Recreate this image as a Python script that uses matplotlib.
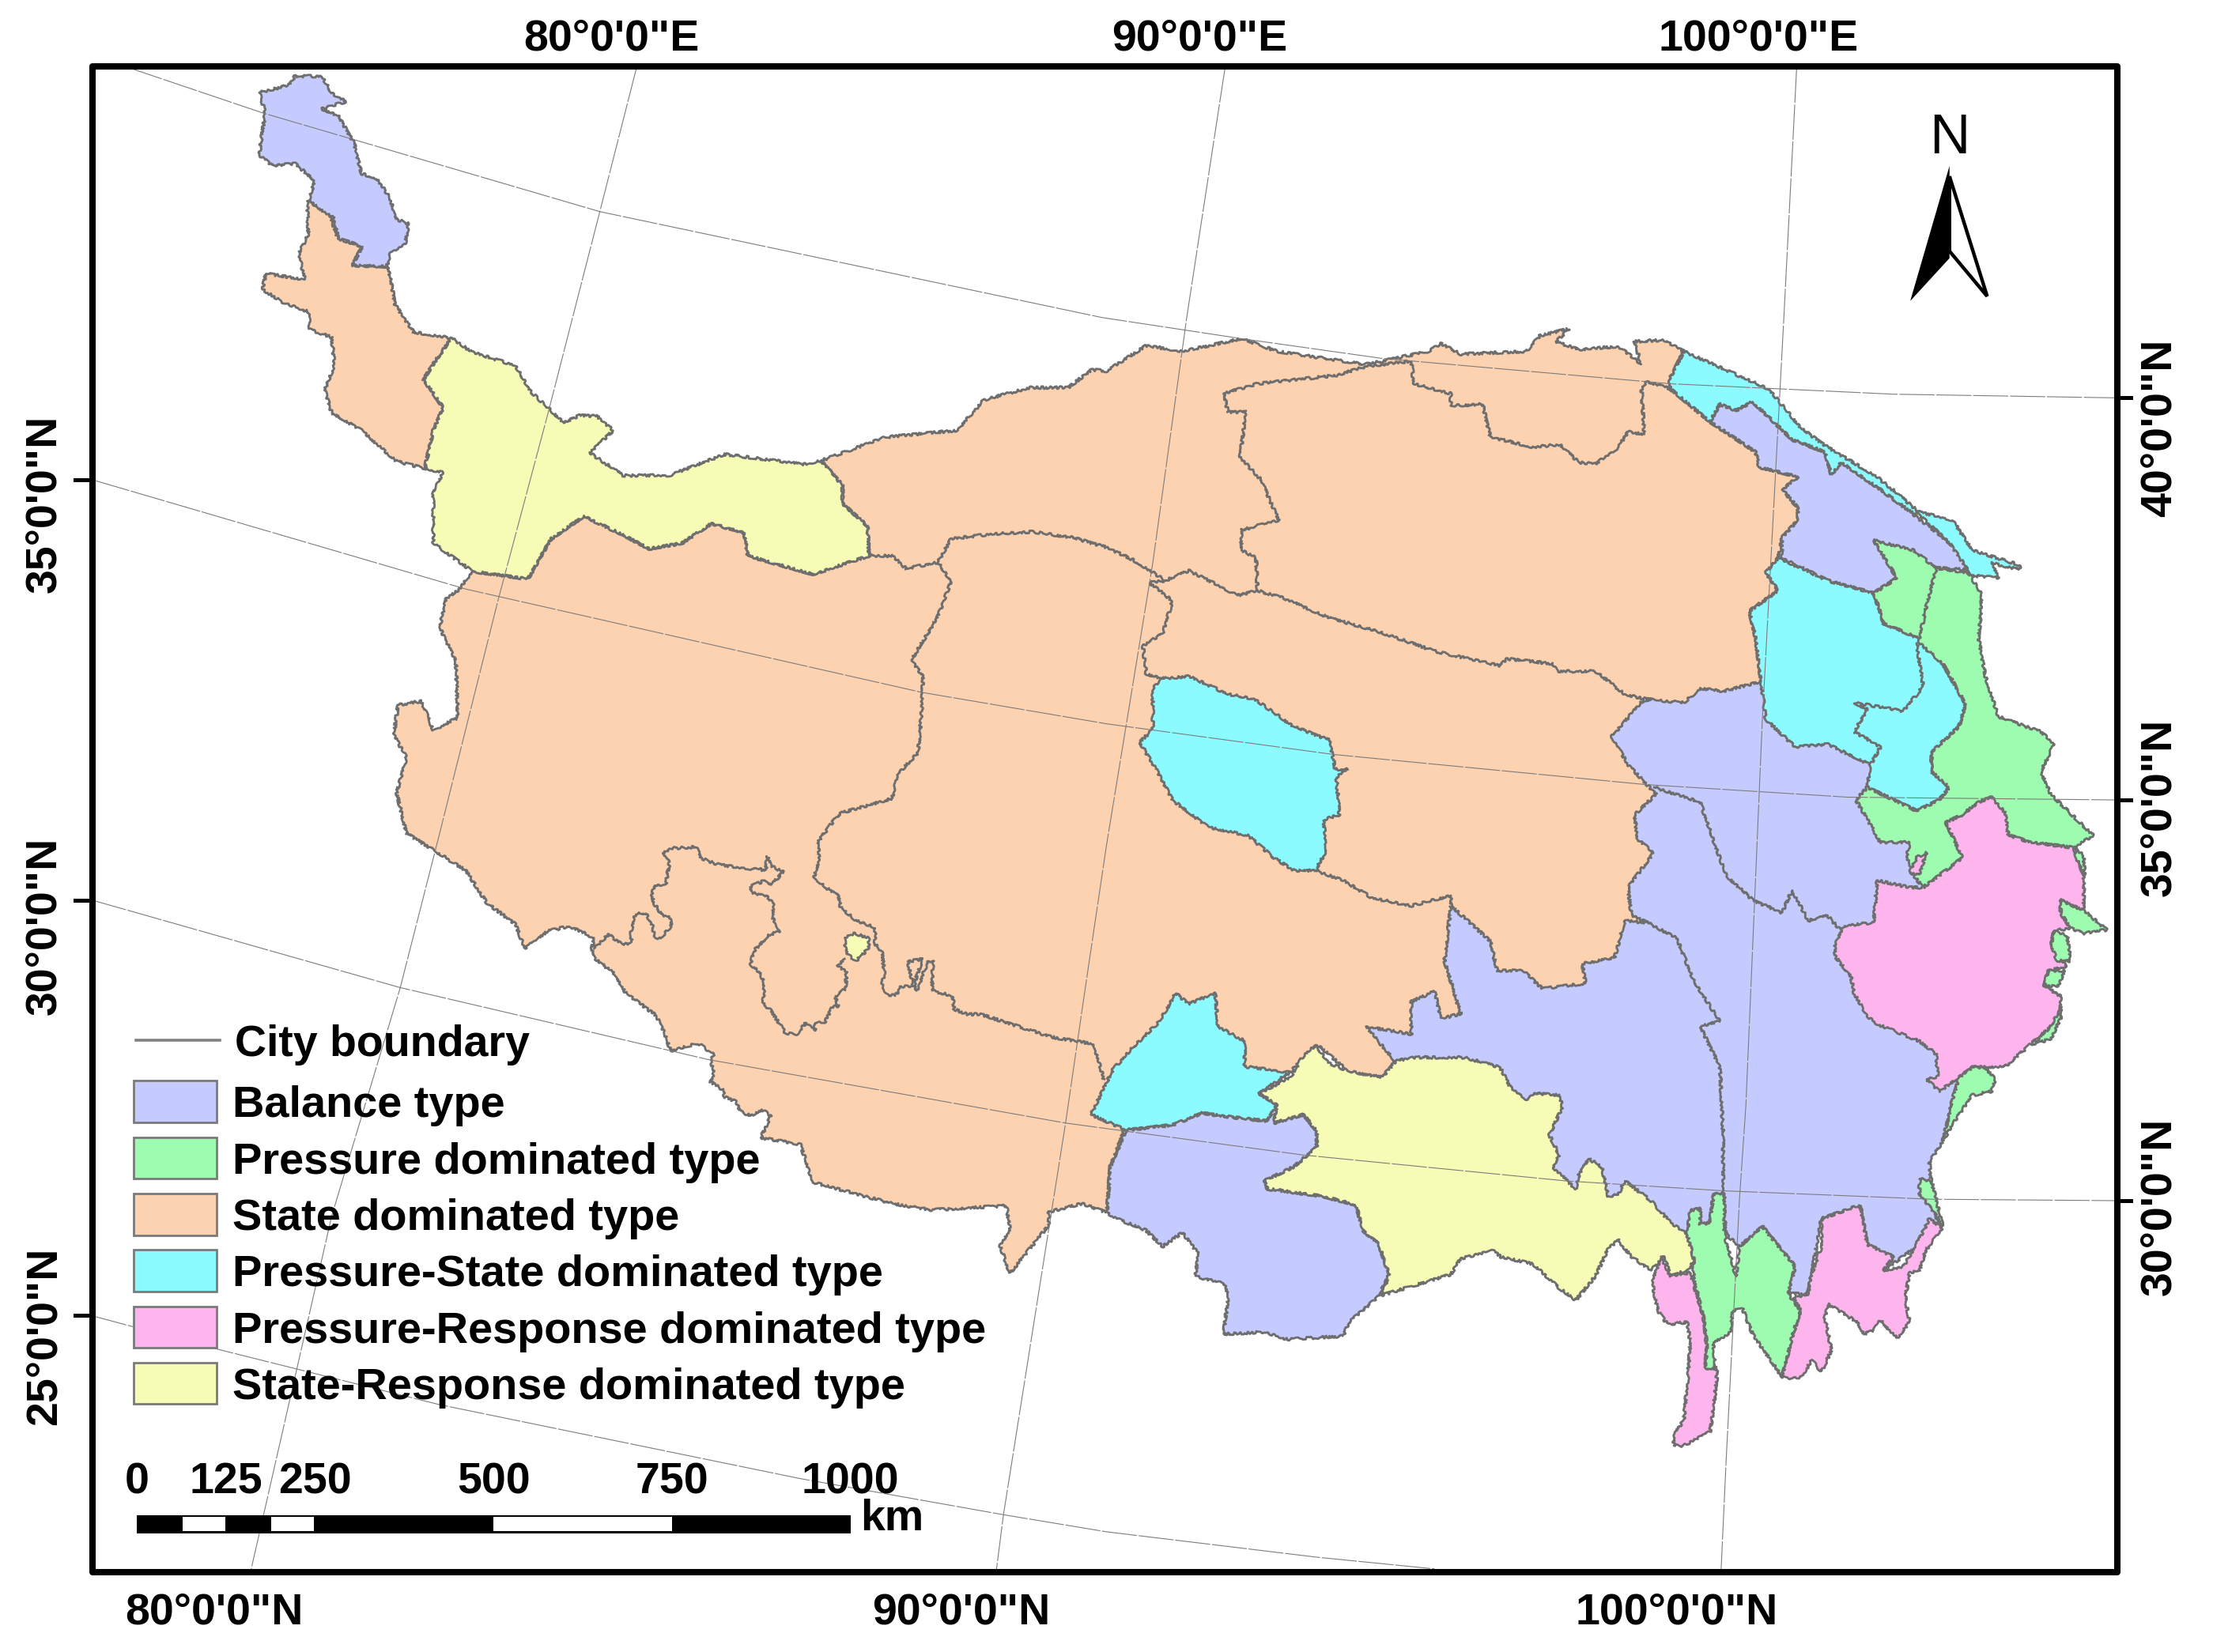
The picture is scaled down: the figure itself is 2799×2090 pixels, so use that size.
import matplotlib
matplotlib.use("Agg")
import matplotlib.pyplot as plt
from matplotlib.patches import Polygon, Rectangle

plt.rcParams['font.family'] = ['Liberation Sans', 'DejaVu Sans']

# everything, in a 1568 x 1171 map sheet grid
W, H = 1568, 1170.9

c_balance = '#C5CBFE'
c_pressure = '#9EFCB0'
c_state = '#FDD2B0'
c_ps = '#8CFBFF'
c_pr = '#FEB5EE'
c_sr = '#F6FCB6'
c_edge = '#6E6E6E'

legend_labels = ['Balance type', 'Pressure dominated type', 'State dominated type',
                 'Pressure-State dominated type', 'Pressure-Response dominated type',
                 'State-Response dominated type']
legend_colors = [c_balance, c_pressure, c_state, c_ps, c_pr, c_sr]
scale_km = [0, 125, 250, 500, 750, 1000]

# shared edge of the northern yellow region and the main orange region
yellow_south_edge = [(334.7,405),(374,410.4),(390.4,382),(413.6,366),(439,378),(460,389),(483.3,385),
                     (504,371),(527.4,378),(529.8,394),(576,407),(615.7,394),(614.7,373),(597,357),
                     (597,344),(581.8,326.5)]

state_main = yellow_south_edge + [
    (627,310),(678,305),(697,283.6),(729.5,274.7),(757,274.7),(773.6,262),(784,263),(812,245),(838,249),
    (879.5,240),(905,249),(965.5,258),(979,256),(1012,249),(1021,243.6),(1035,251),(1081.6,249),(1091,238),
    (1112,233),(1102.5,242),(1119,248),(1146.6,245.4),(1163,258),(1158,242),(1179,241),(1193,249),(1183,268.6),
    (1183.7,275.8),(1211.6,299),(1244,320.4),(1246.4,331),(1274,338),(1262.7,347),(1274,360),(1274,368.6),
    (1262.7,381),(1260,395.4),(1251,406),(1260,418.6),(1239.5,433),(1244,452.6),(1247.8,483),(1221,490),
    (1204.6,488),(1193,498),(1165,495.4),(1142,522),(1153.5,542),(1173.5,563),(1158,577.6),(1160.5,595.4),
    (1172,604),(1153.5,629),(1156,649),(1167.5,654),(1151,652.6),(1144,679),(1121,683),(1123.4,697),(1093,700.8),
    (1079,688),(1060.7,688),(1056,667),(1028,642),(1023.5,681),(1035,718.6),(1021,722),(1016.5,702.6),(1000,710),
    (1000,733),(967.8,727.6),(988.7,752.3),(979.4,763.6),(956,760),(933,740),(914,760),(850,770),(797,800),
    (786.6,827),(784.3,859.5),(766.6,853),(743,859),(743.4,868),(715.5,902.6),(708.6,883),(715.5,871),(713,854.6),
    (660,857.6),(632,853),(576,838),(567,811),(539,806.5),(546.3,790.8),(540.7,787),(532.3,790.8),(524.8,788),
    (521,780.5),(513.6,777.7),(511.7,772.2),(503.3,766.5),(506.1,760),(503.3,751.6),(506.1,747.9),(494.9,739.5),
    (487.4,741.3),(475.3,745),(470.6,732),(465,719.9),(443.5,704),(435,690),(422,679.7),(419.3,672.2),(421,664.8),
    (403.4,656.4),(388,660),(372,672),(365,655),(345,640),(330,617),(300,598),(288,590.7),(281,562),(288,537),
    (279,521),(282,499.7),(298.5,497),(307,517.5),(324.5,508.6),(323,469),(311.5,444.7),(316,424.7),(325.4,417.5)]

state_nw = [(217.6,142.5),(232.5,149.7),(239.5,169),(256.6,174.7),(249.7,188),(275,189),(280,216),(293,235.4),
            (320,239.7),(309,255),(300,269),(314,289),(307,305),(301,332),(281,327),(256,305),(235,292.5),
            (230,276.5),(237,258.6),(235,239),(219.5,233.6),(218.6,221),(200,214),(186,205),(188.4,194),
            (216,198),(211.6,180),(218.6,166)]

response_north = [(320,239.7),(334.7,249.7),(365,259),(376.5,278),(399.7,299.7),(411,294.3),(423,295),(434.5,305),
                  (418,321),(441.5,337),(474,337),(513.5,322),(569,329)] + yellow_south_edge[::-1] \
    + [(307,385),(307,348),(313.8,335),(301,332),(307,305),(314,289),(300,269),(309,255)]

balance_nw = [(183.7,65.7),(204.6,60.4),(209,54),(228,54),(235,66),(245.5,72),(228,77),(239.5,82),(251,101.5),
              (256,123),(267,126.5),(276.6,140.7),(280,155),(289.6,158.6),(287,173),(276.6,180),(274,189),
              (249.7,188),(256.6,174.7),(239.5,169),(237,155),(218.6,142.5),(223,128),(209,116),(193,117.5),
              (183.7,110),(186,92.5),(188,80)]

balance_ne = [(1211.6,299),(1218.6,286.5),(1230,291),(1241.8,284.7),(1269.7,311.5),(1293,320.4),(1297.6,336.5),
              (1304.5,327.6),(1330,345.4),(1352,361.5),(1381,384.7),(1404.3,404.4),(1372,402.6),(1327.7,383),
              (1344,409.7),(1327.7,420.4),(1295,411.5),(1262.7,395.4),(1262.7,381),(1274,368.6),(1274,360),
              (1262.7,347),(1274,338),(1246.4,331),(1244,320.4)]

balance_main = [(1000,700),(1020,625),(1100,620),(1100,520),(1240,470),(1300,470),(1340,540),(1400,600),(1450,700),(1400,750),
                (1385.8,773.5),(1376.5,808.7),(1367,824),(1369.6,849.7),(1374,872),(1334.6,900.5),(1341.6,890.6),
                (1323,882),(1318,854),(1290.6,863.8),(1281,917),(1267,917),(1272,897.7),(1248.8,869.4),
                (1232.5,883.5),(1223,875),(1220.9,845.4),(1214,846.8),(1211.6,866.6),(1204.6,868),(1204.6,856.7),
                (1197.7,858),(1195.4,875),(1190,880),(1100,850),(1000,800),(950,760),(967.8,727.6)]

balance_south = [(798,801),(830.7,797.5),(851.6,789),(872.5,791.8),(898,794.6),(905,783),(902.7,796),(923.6,790),
                 (933,801.7),(933,813),(916.7,827),(895.8,837),(898,842.6),(937.6,848),(960.8,854),(965.4,872),
                 (977,882),(984,903),(977,918.8),(956,937),(951.5,947),(912,949.3),(895.8,944),(867,945.6),
                 (870,920),(867.9,910),(847,904.7),(849.3,889),(837.7,873.7),(823.8,883.5),(812,872),(791.3,863.8),
                 (784.3,859.5),(786.6,827)]

response_south = [(892,775),(914.4,763.6),(923.6,748),(932,741),(942.2,753.7),(956,759.3),(979.4,763.6),(988.7,752.3),
                  (1000,749.5),(1014.2,749.5),(1037.4,749.5),(1063,756.5),(1070,770.6),(1081.6,779),(1088.5,774.9),
                  (1104.8,776.3),(1107,784.7),(1097.8,804.5),(1104.8,818.6),(1100,827),(1116.4,842.6),(1118.7,832.7),
                  (1125.7,821.4),(1135,827),(1139.6,848),(1146.6,846.8),(1151.2,837),(1169.8,851),(1183.7,866.6),
                  (1195.4,875),(1200,892),(1197.7,899),(1183.7,904.7),(1179,890.6),(1169.8,900.5),(1155.9,890.6),
                  (1146.6,879),(1139.6,885),(1130.3,904.7),(1116.4,921.6),(1104.8,913),(1086.2,896),(1063,890.6),
                  (1058.3,886.4),(1035,892),(1028,903.3),(979.4,918),(984,903),(977,882),(965.4,872),(960.8,854),
                  (937.6,848),(898,842.6),(895.8,837),(916.7,827),(933,813),(933,801.7),(923.6,790),(902.7,796),(905,783)]

ps_ne = [(1193,249),(1253.4,275.8),(1276.6,304),(1295,317),(1330,338),(1360,363),(1383.5,368.6),(1397.4,390),
         (1432,400.8),(1430,403.6),(1411,399),(1416,409.7),(1397.4,408),(1381,384.7),(1360,365),(1352,361.5),
         (1330,345.4),(1304.5,327.6),(1297.6,336.5),(1293,320.4),(1269.7,311.5),(1241.8,284.7),(1230,291),
         (1218.6,286.5),(1211.6,299),(1183.7,275.8),(1183,268.6)]

ps_east = [(1260,395.4),(1295,411.5),(1327.7,420.4),(1334.7,442),(1360,452.6),(1376.5,470.4),(1392.7,499),(1388,515),
           (1368.6,533),(1368.6,547),(1381,558),(1374,567),(1358,574.7),(1323,558),(1325,542),(1295,527.6),
           (1272,529.4),(1251,509.7),(1247.8,483),(1244,452.6),(1239.5,433),(1260,418.6),(1251,406)]

ps_lake = [(823.8,481),(842.4,479.4),(870.2,492),(888.8,495.4),(916.7,515),(942.2,524.7),(946,545.4),(955,544.7),
           (946.9,550.8),(949,577.6),(937.6,581),(940,602.6),(932,617),(916.7,617),(902.7,608),(884,592),
           (856.3,586.5),(830.7,567),(819,545),(807.5,526),(816.8,517),(816.8,488)]

ps_south = [(773,790),(788.6,758),(803,742),(821.5,724),(833,704),(842,711.5),(861,704),(863,727.6),(882,738),
            (882,756),(914,760),(892,775),(905,783),(898,794.6),(872.5,791.8),(851.6,789),(830.7,797.5),(798,801)]

pressure_east = [(1327.7,383),(1355.6,390),(1372,402.6),(1395,406),(1404.3,422),(1402,452.6),(1406.7,479.4),
                 (1413.6,500.8),(1416,508),(1446,518.6),(1455.5,527.6),(1446,547),(1453,563),(1483,592),(1469.4,600.8),
                 (1439,597),(1423,592),(1411,565),(1402,568.6),(1390,577.6),(1378.8,583),(1390.4,608),(1376.5,618.6),
                 (1362.6,629),(1355.6,620.4),(1351,608),(1353,597),(1332.4,597),(1315,567),(1323,558),(1358,574.7),
                 (1374,567),(1381,558),(1368.6,547),(1368.6,533),(1388,515),(1392.7,499),(1376.5,470.4),(1360,456),
                 (1360,452.6),(1334.7,442),(1327.7,420.4),(1344,409.7)]

pressure_south = [(1214,846.8),(1221.8,845.4),(1221.8,875),(1230,904.7),(1232.5,883.5),(1248.8,869.4),(1272,897.7),
                  (1267,917),(1275.7,928.7),(1269.7,948),(1262.7,976),(1241.8,945.6),(1234.8,928),(1228,928.7),
                  (1225.5,945.6),(1214,951),(1215.4,970),(1208.4,969.6),(1209.3,952.7),(1207,934),(1200,906),
                  (1200,892),(1195.4,875),(1197.7,858),(1204.6,856.7),(1204.6,868),(1211.6,866.6)]

pressure_bits = [
    [(1469.4,600.8),(1476.4,606),(1477,621),(1472,610)],
    [(1460,638),(1476.4,645.4),(1492.6,659),(1476.4,661.5),(1467,658),(1460,647)],
    [(1455.4,659.7),(1464.7,663),(1467,681),(1457.8,681),(1453,670.4)],
    [(1451,688),(1463,688),(1458,699),(1448.5,699)],
    [(1460,714),(1460,722),(1453,736.5),(1440,740),(1453,727.6)],
    [(1397.4,756.5),(1406.7,756.5),(1413.6,765),(1411,773.5),(1397.4,776.3),(1388,790),(1376.5,808.7),(1383.5,779),(1388,763.6)],
    [(1360,835.6),(1368.6,837),(1376.5,869.4),(1369.6,858),(1360,847)]]

pr_main = [(1411,565),(1420.6,575.8),(1423,592),(1439,597),(1469.4,600.8),(1476.4,620.4),(1476.4,645.4),(1460,638),
           (1460,647),(1467,658),(1455.4,659.7),(1453,670.4),(1464.7,684.7),(1451,688),(1448.5,699),(1460,706),
           (1460,722),(1439,740),(1420.6,756),(1397.4,756.5),(1388,763.6),(1374,773.5),(1365,765),(1373,763),
           (1371.8,747),(1360,738),(1330,725.8),(1323,720),(1313.8,704),(1311.5,692),(1300,677.6),(1300,668.6),
           (1306.8,656),(1327.7,654),(1330,624),(1353,629),(1362.6,629),(1376.5,618.6),(1390.4,608),(1378.8,583),
           (1390,577.6),(1402,568.6)]

pr_small = [(1357.9,608),(1353,618.6),(1360,620.4),(1365,604)]

pr_strip = [(1176.8,890.6),(1183.7,904.7),(1197.7,901.9),(1207,934),(1209.3,952.7),(1208.4,969.6),(1216.3,970.5),
            (1216.3,978),(1214,999),(1211.6,1014.8),(1193,1024.7),(1186,1024.7),(1186,1017.6),(1193,1006.3),
            (1195.4,982.3),(1197.7,951),(1195.4,937.2),(1181.4,938.6),(1174.5,928.7),(1170.7,909)]

pr_southeast = [(1271,920),(1281,917),(1283.6,903.3),(1290.6,883.5),(1290.6,863.8),(1318,854),(1323,882),(1341.6,890.6),
                (1334.6,900.5),(1348.6,897.7),(1360,877.9),(1367,863.8),(1376.5,870.8),(1364.6,886),(1360,900.5),
                (1353,901.9),(1350,920),(1353,937.2),(1344,948.5),(1332.4,935.8),(1327.7,942.8),(1320.7,945.6),
                (1316,937),(1295.4,924.5),(1293,934.3),(1297.6,957),(1290.6,972.4),(1283.6,964),(1276.5,976),
                (1267,976.7),(1262.7,976),(1269.7,948),(1275.7,928.7)]

sr_small = [(599.5,664.8),(605,661.4),(615.4,664.8),(615.4,672.2),(607,680.6),(600.4,676.9),(598.5,668.5)]

# city boundaries inside the regions
city_lines = [
    [(967.8,259.7),(947,266),(891,272),(867,279),(870,292),(882.8,292),(878.6,324),(893.4,340),(906,368.6),(879.5,375.8),
     (879.5,390),(890,395.4),(891,418.6),(909.7,424),(942,438),(974.7,447),(1016.5,461.5),(1063,472),(1067.6,467),
     (1100,470.4),(1104.8,475.8),(1130.3,475.8),(1151.2,492),(1165,495.4)],
    [(967.8,259.7),(1000,256),(1001.7,272),(1028,279),(1028,287.6),(1050.4,286.5),(1056,309.7),(1086,317),(1104.8,315),
     (1118.7,327.6),(1130.3,329),(1146.6,317),(1153.5,306),(1165,308),(1163,274),(1167.5,270.4),(1183.7,275.8)],
    [(664.5,398.6),(673.8,382),(701.6,378.6),(731.8,376.9),(760,381),(784.3,388),(803,397),(826,411.5),(842.4,404.4),
     (877,422),(891,418.6)],
    [(615.7,394),(632,394),(642,403),(664.5,398.6),(674,412),(664.5,437),(646,467.5),(654,480),(653,505),(650.5,533.6),
     (636.6,548),(632,566),(595,576.5),(590,582.6),(579,597.5),(580.8,606.9),(577,621.8),(585.5,629.3),(593.9,634.9),
     (595.7,643.3),(607,652.6),(620,657.3),(620,669.4),(624.7,674),(626.6,689),(624.7,700.2),(631.2,705.9),(636.8,704),
     (637.8,699.3),(647.1,699.3),(643.4,681.6),(653.6,679.7),(648,696.5),(649.5,702.1),(657.4,681.6),(661.1,680.6),
     (660.2,702.1),(675.1,705.9),(676,715.2),(685.4,718.9),(694.7,718.9),(745,735),(775,740),(782,765)],
    [(421,672.2),(431.4,662),(436,666.6),(443.5,669.4),(447.3,667.6),(447.3,659),(450,648),(457.6,647),(463,657.3),
     (463,663),(467.8,665.7),(475.3,656.4),(475.3,650.8),(468.8,648),(463,639.6),(461.7,633),(465,627.4),(471.6,627.4),
     (474.4,611.5),(469.1,605),(475.3,601.3),(494,600.3),(495.8,607.8),(508,612.5),(521,614.7),(538.8,616.2),
     (542.5,617.1),(543.5,606.9),(547.2,614.3),(555,618),(547.2,626.5),(540.7,624.6),(531.3,628.4),(534.1,633),
     (543.5,635.8),(548.1,639.6),(547.2,649.8),(552.8,660),(544.4,662.9),(534.1,674.1),(531.9,683.4),(537.9,689),
     (541.6,696.5),(540.7,711.5),(545.3,715.2),(556.5,732),(564,733.5),(570.5,725.5),(578,730),(577,725.5),(584.5,724.5),
     (590.1,713.3),(593.9,713.3),(592,706.8),(599.5,700.2),(599.5,689),(593,684.4),(598.5,679.7)],
    [(826,411.5),(814.5,413),(830.7,426),(823.8,449),(809.8,458),(812.2,477.6),(823.8,481)],
    [(932,617),(951.5,624),(972.4,636.5),(1000,642),(1028,634.7),(1028,642)],
    [(1167.5,654),(1188,665),(1200,695),(1218.6,724),(1204.6,727.6),(1218.6,756),(1220.9,804.5),(1220.9,845.4)],
    [(1172,558),(1204.6,568.6),(1214,595.4),(1223,620.4),(1241.8,638),(1262.7,647),(1269.7,631),(1281.3,652.6),(1295,649),
     (1304.5,659.7)],
    [(1358,456),(1362.6,486.5),(1348.6,504),(1313.8,498),(1323,502.6),(1313.8,518.6),(1332.4,529.4),(1325.4,542)],
    [(1372,402.6),(1365,429),(1360,452.6)]]

# graticule
par_40 = [(91,47.9),(186,80),(425,150),(780.5,225),(879.5,240),(979,254),(1183.7,272),(1341.7,279.4),(1500,282)]
par_35 = [(67.6,340.7),(330,417.5),(653,490.7),(784,513),(944.5,534.7),(1165,556),(1309,565),(1500,567)]
par_30 = [(65.3,638),(283.6,700),(501.9,751),(755,796),(923,818.6),(1109.4,837),(1220.9,844),(1369.6,850),(1500,851)]
par_25 = [(65.3,932.6),(149,955),(311.5,995.6),(567,1048),(711,1073.6),(784,1085.7),(933,1103.7),(1016.5,1112)]
mer_80 = [(451,48),(425,150),(388,294),(353,425),(311.5,590.7),(283.6,700),(235,862),(178,1112)]
mer_90 = [(868,48),(841,224),(816.8,399),(784,599),(769,700),(755,796),(711,1073.6),(706,1112.7)]
mer_100 = [(1273,48),(1264,224),(1248.7,509.7),(1237,784),(1232.5,849.7),(1223,1036),(1219.5,1112)]

top_labels = [('80°0\'0"E', 433), ('90°0\'0"E', 850), ('100°0\'0"E', 1246)]
bottom_labels = [('80°0\'0"N', 152), ('90°0\'0"N', 681), ('100°0\'0"N', 1188)]
left_labels = [('35°0\'0"N', 357, 340), ('30°0\'0"N', 656, 638), ('25°0\'0"N', 947, 932)]
right_labels = [('40°0\'0"N', 303, 282), ('35°0\'0"N', 572, 567), ('30°0\'0"N', 855, 851)]

fig = plt.figure(figsize=(27.99, 20.90), dpi=100)
ax = fig.add_axes([0, 0, 1, 1])
ax.set_xlim(0, W)
ax.set_ylim(H, 0)
ax.axis('off')


def region(pts, color, z=2):
    p = Polygon(pts, closed=True, fc=color, ec=c_edge, lw=2.0, zorder=z, joinstyle='round')
    p.set_sketch_params(scale=1.6, length=10, randomness=20)
    ax.add_patch(p)


# order matters, later regions sit on the earlier ones
region(balance_main, c_balance)
region(state_main, c_state)
region(state_nw, c_state)
region(response_north, c_sr)
region(balance_nw, c_balance)
region(balance_ne, c_balance)
region(ps_ne, c_ps)
region(ps_east, c_ps)
region(ps_lake, c_ps)
region(ps_south, c_ps)
region(balance_south, c_balance)
region(response_south, c_sr)
region(pressure_east, c_pressure)
region(pr_main, c_pr)
region(pr_small, c_pr)
for bit in pressure_bits:
    region(bit, c_pressure)
region(pr_strip, c_pr)
region(pr_southeast, c_pr)
region(pressure_south, c_pressure)
region(sr_small, c_sr)

for line in city_lines:
    l, = ax.plot([p[0] for p in line], [p[1] for p in line], color=c_edge, lw=2.0, zorder=3)
    l.set_sketch_params(scale=1.6, length=10, randomness=20)

# graticule goes over the map
for line in [par_40, par_35, par_30, par_25, mer_80, mer_90, mer_100]:
    ax.plot([p[0] for p in line], [p[1] for p in line], color='#7c7c7c', lw=0.8,
            ls=(0, (40, 2)), zorder=4)

# frame and side ticks
ax.add_patch(Rectangle((65.3, 47.3), 1435, 1067, fc='none', ec='black', lw=5.8, zorder=6, joinstyle='round'))
for txt, yc, ytick in left_labels:
    ax.plot([53, 65.3], [ytick, ytick], color='black', lw=3.6, zorder=6)
    ax.text(31.5, yc, txt, rotation=90, ha='center', va='center', fontsize=40, fontweight='bold')
for txt, yc, ytick in right_labels:
    ax.plot([1500.3, 1510], [ytick, ytick], color='black', lw=3.6, zorder=6)
    ax.text(1530, yc, txt, rotation=90, ha='center', va='center', fontsize=40, fontweight='bold')
for txt, xc in top_labels:
    ax.text(xc, 28, txt, ha='center', va='center', fontsize=40, fontweight='bold')
for txt, xc in bottom_labels:
    ax.text(xc, 1143, txt, ha='center', va='center', fontsize=40, fontweight='bold')

# north arrow
ax.add_patch(Polygon([(1381.3, 125), (1408, 210), (1381.3, 178)], closed=True, fc='white', ec='black',
                     lw=3.2, zorder=5, joinstyle='miter'))
ax.add_patch(Polygon([(1381.3, 117.6), (1353.5, 213.3), (1381.3, 183)], closed=True, fc='black', ec='none', zorder=5))
ax.text(1381.5, 98.5, 'N', ha='center', va='center', fontsize=51, zorder=5)

# legend
ax.plot([96.4, 156], [737.5, 737.5], color='#808080', lw=2.6, zorder=5)
ax.text(166.5, 740.5, 'City boundary', ha='left', va='center', fontsize=40, fontweight='bold', zorder=5)
for i, (lab, col) in enumerate(zip(legend_labels, legend_colors)):
    ytop = 766 + i * 39.95
    ax.add_patch(Rectangle((94.5, ytop), 59, 29.5, fc=col, ec='#7a7a7a', lw=2.0, zorder=5))
    ax.text(164.7, ytop + 18, lab, ha='left', va='center', fontsize=40.3, fontweight='bold', zorder=5)

# scale bar, one unit of km is 0.5057 sheet units
km_x = [96.9 + v * 0.5057 for v in scale_km]
ax.add_patch(Rectangle((km_x[0], 1073.7), km_x[-1] - km_x[0], 13.3, fc='black', ec='none', zorder=5))
ax.add_patch(Rectangle((km_x[0] + 32.5, 1075.3), 30.2, 10, fc='white', ec='none', zorder=5))
ax.add_patch(Rectangle((km_x[2] - 31, 1075.3), 30.2, 10, fc='white', ec='none', zorder=5))
ax.add_patch(Rectangle((km_x[3], 1075.3), km_x[4] - km_x[3], 10, fc='white', ec='none', zorder=5))
for v, x in zip(scale_km, km_x):
    ax.text(x, 1051, str(v), ha='center', va='center', fontsize=40, fontweight='bold', zorder=5)
ax.text(632, 1077, 'km', ha='center', va='center', fontsize=40, fontweight='bold', zorder=5)

fig.savefig('out.png', dpi=100)
